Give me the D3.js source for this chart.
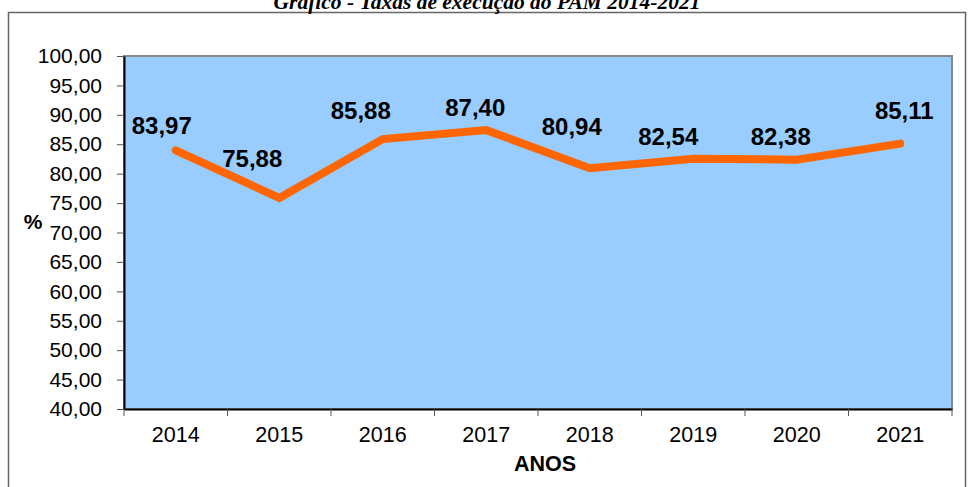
<!DOCTYPE html>
<html>
<head>
<meta charset="utf-8">
<script src="https://cdn.jsdelivr.net/npm/d3@7"></script>
<style>
  body { margin: 0; background: #fff; }
  svg { display: block; font-family: "Liberation Sans", Arial, sans-serif; }
</style>
</head>
<body>
<div id="svg-container"></div>
<script>
// data
const years = ["2014", "2015", "2016", "2017", "2018", "2019", "2020", "2021"];
const taxas = [83.97, 75.88, 85.88, 87.4, 80.94, 82.54, 82.38, 85.11];
const yTicks = [40, 45, 50, 55, 60, 65, 70, 75, 80, 85, 90, 95, 100];
// label nudges as in the source (dx, dy from point)
const labelShift = [[-14, -25], [-27, -39], [-22, -28], [-11, -23], [-18, -42], [-25, -22], [-16, -23], [4, -33]];

const width = 968, height = 487;
const margin = { top: 56, right: 16, bottom: 78, left: 124 };
const fmt = d => d3.format(".2f")(d).replace(".", ",");

const svg = d3.select("#svg-container").append("svg")
  .attr("width", width).attr("height", height);

// outer frame
svg.append("rect")
  .attr("x", 8.5).attr("y", 12.5)
  .attr("width", 957).attr("height", 490)
  .attr("fill", "none").attr("stroke", "#666").attr("stroke-width", 1.5);

// title (partly cut at the top like the source)
svg.append("text")
  .attr("x", 487).attr("y", 9)
  .attr("text-anchor", "middle")
  .attr("font-family", "'Liberation Serif', 'Times New Roman', serif")
  .attr("font-style", "italic").attr("font-weight", "bold")
  .attr("font-size", 21.5)
  .text("Gráfico -  Taxas de execução do PAM 2014-2021");

// scales
const xScale = d3.scaleBand()
  .domain(years)
  .range([margin.left, width - margin.right]);

const yScale = d3.scaleLinear()
  .domain([40, 100])
  .range([height - margin.bottom, margin.top]);

// plot area
svg.append("rect")
  .attr("x", margin.left).attr("y", margin.top)
  .attr("width", width - margin.right - margin.left)
  .attr("height", height - margin.bottom - margin.top)
  .attr("fill", "#99CCFF")
  .attr("stroke", "#888").attr("stroke-width", 2);

// y axis
const yAxis = d3.axisLeft(yScale)
  .tickValues(yTicks)
  .tickFormat(fmt)
  .tickSize(7).tickPadding(15).tickSizeOuter(0);

svg.append("g")
  .attr("class", "y-axis")
  .attr("transform", `translate(${margin.left},0)`)
  .call(yAxis)
  .call(g => g.select(".domain").attr("stroke", "#000").attr("stroke-width", 2))
  .call(g => g.selectAll(".tick line").attr("stroke", "#555"))
  .call(g => g.selectAll("text").attr("font-size", 21).attr("fill", "#000")
    .attr("font-family", "'Liberation Sans', Arial, sans-serif"));

// x axis
const xAxis = d3.axisBottom(xScale).tickSize(0).tickPadding(18);
svg.append("g")
  .attr("class", "x-axis")
  .attr("transform", `translate(0,${height - margin.bottom})`)
  .call(xAxis)
  .call(g => g.select(".domain").attr("stroke", "#000").attr("stroke-width", 2))
  .call(g => g.selectAll("text").attr("font-size", 21.5).attr("fill", "#000")
    .attr("font-family", "'Liberation Sans', Arial, sans-serif"));

// tick marks at band edges
svg.append("g")
  .selectAll("line")
  .data(years.concat(["end"]))
  .join("line")
  .attr("x1", (d, i) => i < years.length ? xScale(d) : xScale.range()[1])
  .attr("x2", (d, i) => i < years.length ? xScale(d) : xScale.range()[1])
  .attr("y1", height - margin.bottom)
  .attr("y2", height - margin.bottom + 7)
  .attr("stroke", "#555");

// axis titles
svg.append("text")
  .attr("x", 545).attr("y", 471)
  .attr("text-anchor", "middle")
  .attr("font-size", 21.5).attr("font-weight", "bold")
  .text("ANOS");

svg.append("text")
  .attr("x", 33).attr("y", 229)
  .attr("text-anchor", "middle")
  .attr("font-size", 21).attr("font-weight", "bold")
  .text("%");

// line
const line = d3.line()
  .x((d, i) => xScale(years[i]) + xScale.bandwidth() / 2)
  .y(d => yScale(d));

svg.append("path")
  .datum(taxas)
  .attr("d", line)
  .attr("fill", "none")
  .attr("stroke", "#FF6600")
  .attr("stroke-width", 8)
  .attr("stroke-linejoin", "miter")
  .attr("stroke-linecap", "round");

// data labels
svg.append("g")
  .selectAll("text")
  .data(taxas)
  .join("text")
  .attr("x", (d, i) => xScale(years[i]) + xScale.bandwidth() / 2 + labelShift[i][0])
  .attr("y", (d, i) => yScale(d) + labelShift[i][1])
  .attr("dy", "0.35em")
  .attr("text-anchor", "middle")
  .attr("font-size", 24).attr("font-weight", "bold")
  .text(fmt);
</script>
</body>
</html>
